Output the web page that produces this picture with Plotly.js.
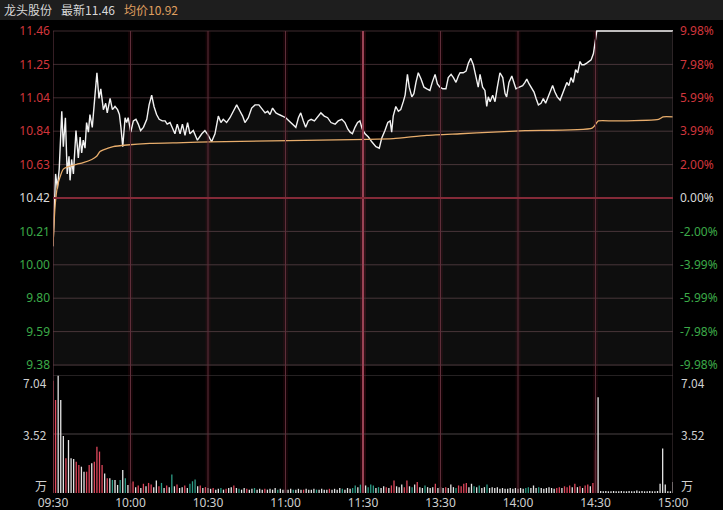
<!DOCTYPE html>
<html><head><meta charset="utf-8">
<script src="https://cdn.plot.ly/plotly-3.0.1.min.js"></script>
<style>html,body{margin:0;padding:0;background:#000;}#c{width:723px;height:510px;}</style>
</head><body><div id="c"></div>
<script>
// ---- data ----
const stockName = '龙头股份';
const lastPrice = '11.46';
const avgPriceText = '10.92';
const timeTickVals = [0, 30, 60, 90, 120, 150, 180, 210, 240];
const timeTickText = ['09:30','10:00','10:30','11:00','11:30','13:30','14:00','14:30','15:00'];
const priceTickVals = [11.46,11.252,11.044,10.836,10.628,10.42,10.212,10.004,9.796,9.588,9.38];
const priceTickText = ['11.46','11.25','11.04','10.84','10.63','10.42','10.21','10.00','9.80','9.59','9.38'];
const pctTickText = ['9.98%','7.98%','5.99%','3.99%','2.00%','0.00%','-2.00%','-3.99%','-5.99%','-7.98%','-9.98%'];
const prevClose = 10.42;

// price line: minute index (0 = 09:30, 120 = 11:30/13:00, 240 = 15:00)
const priceT = [0,1.0,1.7,2.4,3.4,4.0,4.8,5.5,6.2,6.6,7.2,7.9,8.9,9.8,10.5,11.1,11.7,12.4,13.0,13.7,14.3,15.2,16.3,17.0,17.8,18.5,19.5,20.4,21.0,22.1,23.0,24.0,25.0,25.7,26.3,27.0,27.9,28.5,29.1,30.1,31.1,32.1,33.0,33.9,35.0,36.3,37.2,38.2,39.1,40.1,41.1,42.3,43.4,44.2,45.3,46.2,47.2,48.1,49.2,50.1,51.1,52.1,53.0,54.3,55.9,57.6,58.8,60.1,61.4,62.7,64.0,65.0,65.9,67.2,68.5,69.8,71.1,72.4,73.4,74.3,75.6,76.9,78.2,79.7,80.8,82.1,83.1,84.0,85.0,86.3,87.5,88.8,90.1,91.4,92.6,94.0,95.0,95.9,96.9,97.8,98.8,99.9,101.2,102.5,103.7,105.0,106.3,107.6,109.2,110.4,111.8,113.0,114.1,115.0,115.9,116.9,117.9,118.8,119.7,120.8,122.1,123.4,125.0,126.3,127.2,128.5,129.6,130.5,131.1,131.7,132.7,133.7,134.6,135.6,136.3,137.2,137.9,138.9,139.7,140.5,141.4,142.5,143.6,144.7,145.9,146.8,147.9,148.8,149.8,150.9,152.1,153.0,154.1,155.0,156.0,156.9,157.6,158.8,159.9,160.8,161.7,162.7,163.4,164.0,164.6,165.3,166.3,167.2,167.9,168.5,169.2,170.2,171.1,172.0,173.0,174.1,175.0,175.6,176.5,177.6,178.5,179.2,180.5,181.8,182.7,183.4,184.3,185.3,186.2,187.0,187.9,188.9,189.8,190.7,191.7,192.8,193.4,194.3,195.2,196.3,197.2,197.9,198.9,199.7,200.5,201.4,202.3,203.1,204.0,204.7,205.6,206.6,207.5,208.3,209.2,209.8,210.5,240];
const priceV = [10.12,10.57,10.48,10.60,10.96,10.74,10.92,10.57,10.68,10.53,10.66,10.57,10.84,10.67,10.80,10.70,10.78,10.73,10.89,10.83,10.94,10.86,11.07,11.20,11.04,11.10,10.97,11.01,10.95,11.04,10.97,10.99,10.97,10.94,10.86,10.74,10.92,10.89,10.92,10.83,10.90,10.91,10.88,10.84,10.86,10.91,11.00,11.06,10.99,10.94,10.91,10.90,10.90,10.88,10.89,10.86,10.82,10.88,10.82,10.88,10.81,10.89,10.82,10.84,10.78,10.82,10.84,10.81,10.77,10.82,10.93,10.89,10.91,10.89,10.92,10.96,11.00,10.96,10.93,10.89,10.92,10.98,11.00,11.00,10.98,10.95,10.96,10.94,10.98,10.95,10.94,10.93,10.92,10.90,10.88,10.86,10.92,10.95,10.90,10.86,10.90,10.91,10.90,10.93,10.95,10.93,10.92,10.89,10.88,10.90,10.91,10.89,10.85,10.83,10.82,10.86,10.89,10.90,10.85,10.82,10.80,10.77,10.74,10.73,10.79,10.84,10.89,10.90,10.83,10.93,10.99,10.96,10.97,11.02,11.06,11.19,11.11,11.05,11.07,11.14,11.20,11.16,11.11,11.10,11.09,11.14,11.19,11.13,11.11,11.10,11.10,11.17,11.19,11.17,11.14,11.18,11.20,11.20,11.21,11.26,11.29,11.25,11.20,11.14,11.11,11.19,11.11,11.09,10.99,11.05,11.02,11.06,11.02,11.11,11.20,11.17,11.07,11.05,11.14,11.18,11.13,11.10,11.11,11.12,11.14,11.16,11.13,11.10,11.08,11.04,11.00,11.01,11.04,11.01,11.05,11.10,11.12,11.08,11.05,11.03,11.07,11.09,11.14,11.12,11.17,11.14,11.22,11.20,11.27,11.25,11.25,11.26,11.27,11.28,11.32,11.40,11.46,11.46];

// average price line
const avgT = [0,0.8,1.7,2.7,4.0,5.9,9.2,11.7,15.0,16.9,18.2,19.5,23.3,28.5,37.5,50.4,60.8,121.9,131.7,144.7,157.6,170.4,182.7,208.7,210.5,211.1,217.6,234.4,236.2,240];
const avgV = [10.12,10.37,10.49,10.55,10.60,10.615,10.63,10.64,10.66,10.68,10.71,10.72,10.74,10.75,10.76,10.765,10.77,10.785,10.79,10.81,10.82,10.83,10.84,10.855,10.89,10.90,10.90,10.91,10.925,10.925];

// volume per minute (万), 241 bars
const volume = [
 6.7,5.55,7.0,5.55,3.4,2.07,3.16,2.07,2.03,1.87,1.67,1.57,1.27,1.27,1.67,1.77,1.87,2.76,2.47,1.67,1.17,0.88,0.88,0.78,0.78,0.48,0.78,1.37,0.88,0.48,0.58,
 0.68,0.35,0.45,0.3,0.55,0.4,0.6,0.5,0.35,0.75,0.4,0.6,0.3,0.45,0.35,1.1,0.4,0.5,0.3,0.35,0.45,0.3,0.55,0.7,0.8,0.4,0.45,0.3,0.35,0.3,
 0.25,0.3,0.2,0.25,0.3,0.2,0.25,0.3,0.35,0.45,0.3,0.25,0.2,0.3,0.25,0.2,0.25,0.3,0.2,0.25,0.2,0.25,0.2,0.25,0.2,0.3,0.2,0.25,0.2,0.2,
 0.2,0.25,0.2,0.2,0.25,0.2,0.2,0.25,0.2,0.2,0.25,0.2,0.2,0.25,0.2,0.2,0.25,0.2,0.25,0.2,0.3,0.25,0.2,0.3,0.25,0.3,0.45,0.35,0.5,0.4,
 0.45,0.35,0.5,0.45,0.3,0.35,0.3,0.4,0.35,0.3,0.45,0.75,0.4,0.35,0.5,0.35,0.75,0.4,0.35,0.5,0.65,0.35,0.3,0.45,0.35,0.3,0.35,0.55,0.3,0.35,
 0.3,0.35,0.3,0.5,0.35,0.3,0.45,0.4,0.55,0.6,0.35,0.55,0.4,0.35,0.45,0.3,0.35,0.5,0.3,0.35,0.3,0.35,0.25,0.3,0.25,0.25,0.3,0.25,0.3,0.25,
 0.3,0.25,0.3,0.35,0.3,0.45,0.3,0.35,0.3,0.25,0.3,0.35,0.3,0.25,0.3,0.35,0.3,0.4,0.35,0.45,0.35,0.55,0.35,0.4,0.3,0.45,0.5,0.4,0.6,2.56,
 5.71,0.12,0.1,0.12,0.1,0.1,0.12,0.1,0.1,0.12,0.1,0.1,0.12,0.1,0.1,0.15,0.1,0.12,0.1,0.1,0.12,0.1,0.1,0.12,0.55,2.65,0.5,0.1,0.1,0.65
];
// bar colour per minute: r = up, g = down, w = flat
const volDir = [
 'rrwwwrwwwrrwwrrwrrrrwrwgwwgwgwr',
 'rwrwrwrrwwrgwrwgwrwwrwgggwrwrw',
 'wrwwgwrwwrwgwwrwwgwwwrwwwwgwww',
 'wwgwwwrwwwwgwwwwrwwwwgwwwggwgw',
 'wgggwgwwrwrrwwwrrwgwrwwgwwwrww',
 'wrwwwgrrrrwwgwgwwgwwwwwwwwwwww',
 'wwggwwwgwwwwwwrrwrrrwrwrwrrwrr',
 'wwwwwwwwwwwwwwwwwwwwwwwwwwwwww'
];
const volTicks = ['7.04','3.52','万'];

// ---- drawing ----
const RED = '#d0363c', GREEN = '#3caa48', WHITE = '#d8d8d8';
const dirColor = {r:'#e0485c', g:'#2e9e88', w:'#e6e6e6'};
const dirs = volDir.join('').split('');
const minutes = volume.map((_, i) => i);

function colorOf(i){ return i < 5 ? RED : (i === 5 ? WHITE : GREEN); }
const leftText = priceTickText.map((t,i)=>`<span style="color:${colorOf(i)}">${t}</span>`);
const rightText = pctTickText.map((t,i)=>`<span style="color:${colorOf(i)}">${t}</span>`);

const FONT = 'Noto Sans, Noto Sans CJK SC, sans-serif';
const CJK = 'Noto Sans CJK SC, Noto Sans, sans-serif';

const traces = [
  {x: priceT, y: priceV, type:'scatter', mode:'lines', xaxis:'x', yaxis:'y',
   line:{color:'#f2f2f2', width:1.4}, fill:'tozeroy', fillcolor:'rgba(255,255,255,0.055)', hoverinfo:'skip'},
  {x: avgT, y: avgV, type:'scatter', mode:'lines', xaxis:'x', yaxis:'y',
   line:{color:'#e8ad6c', width:1.3, shape:'spline', smoothing:0.6}, hoverinfo:'skip'},
  {x: [0,240], y:[prevClose, prevClose], type:'scatter', mode:'lines', xaxis:'x', yaxis:'y2',
   line:{width:0}, hoverinfo:'skip', showlegend:false},
  {x: minutes, y: volume, type:'bar', xaxis:'x', yaxis:'y3', width:0.5,
   marker:{color: dirs.map(d=>dirColor[d]), line:{width:0}}, hoverinfo:'skip'}
];

const PH = 463; // plot height in px (510 - 30 - 17)
const pad = 2.08/334;
const yRange = [9.38 - pad, 11.46 + pad];
function py(px){ return (493 - px)/PH; }
function pxX(px){ return (px - 53)/620; }

const shapes = [];
// header band
shapes.push({type:'rect', xref:'paper', yref:'paper', x0:pxX(0), x1:pxX(723), y0:py(20), y1:py(0),
  fillcolor:'#1e1e1e', line:{width:0}, layer:'below'});
// vertical time lines with faint glow
timeTickVals.forEach(v=>{
  if (v === 0 || v === 240) return;
  const mid = v === 120;
  shapes.push({type:'line', xref:'x', yref:'paper', x0:v, x1:v, y0:0, y1:py(31),
    line:{color: mid ? 'rgba(160,25,45,0.22)' : 'rgba(120,10,30,0.16)', width: mid ? 6 : 5}, layer:'below'});
  shapes.push({type:'line', xref:'x', yref:'paper', x0:v, x1:v, y0:0, y1:py(31),
    line:{color: mid ? '#9a4254' : '#5e2e3a', width: mid ? 2 : 1}});
});
// borders
shapes.push({type:'line', xref:'x', yref:'paper', x0:0, x1:0, y0:0, y1:py(31), line:{color:'#6a3c48', width:1}});
shapes.push({type:'line', xref:'x', yref:'paper', x0:240, x1:240, y0:0, y1:py(31), line:{color:'#4a3a3e', width:1}});
// horizontal price grid
priceTickVals.forEach((v,i)=>{
  if (i === 5) return;
  shapes.push({type:'line', xref:'paper', yref:'y', x0:0, x1:1, y0:v, y1:v, line:{color:'#3e2a2e', width:1}, layer:'below'});
});
shapes.push({type:'line', xref:'paper', yref:'y', x0:0, x1:1, y0:prevClose, y1:prevClose, line:{color:'#842a38', width:2}});
// volume grid
shapes.push({type:'line', xref:'paper', yref:'y3', x0:0, x1:1, y0:7.04, y1:7.04, line:{color:'#4a4244', width:1}, layer:'below'});
shapes.push({type:'line', xref:'paper', yref:'y3', x0:0, x1:1, y0:3.52, y1:3.52, line:{color:'#4a4244', width:1}, layer:'below'});

const annotations = [
  {text:stockName, xref:'paper', yref:'paper', x:pxX(2), y:py(10), xanchor:'left', yanchor:'middle', showarrow:false,
   font:{family:CJK, size:12, color:'#d8d8d8'}},
  {text:'最新' + lastPrice, xref:'paper', yref:'paper', x:pxX(59), y:py(10), xanchor:'left', yanchor:'middle', showarrow:false,
   font:{family:CJK, size:12, color:'#d8d8d8'}},
  {text:'均价' + avgPriceText, xref:'paper', yref:'paper', x:pxX(122), y:py(10), xanchor:'left', yanchor:'middle', showarrow:false,
   font:{family:CJK, size:12, color:'#e0a060'}}
];
const volLabelY = [383, 434, 485];
volTicks.forEach((t,i)=>{
  annotations.push({text:t, xref:'paper', yref:'paper', x:pxX(49), y:py(volLabelY[i]), xanchor:'right', yanchor:'middle',
    showarrow:false, font:{family:CJK, size:12, color:'#d0d0d0'}});
  annotations.push({text:t, xref:'paper', yref:'paper', x:pxX(679), y:py(volLabelY[i]), xanchor:'left', yanchor:'middle',
    showarrow:false, font:{family:CJK, size:12, color:'#d0d0d0'}});
});

const layout = {
  width:723, height:510,
  margin:{l:53, r:50, t:30, b:17, pad:0},
  paper_bgcolor:'#000', plot_bgcolor:'#000',
  showlegend:false, hovermode:false,
  font:{family:FONT, size:12, color:'#d0d0d0'},
  xaxis:{range:[0,240], domain:[0,1], anchor:'y3', tickmode:'array', tickvals:timeTickVals, ticktext:timeTickText,
    showgrid:false, zeroline:false, showline:false, ticks:'', tickfont:{family:FONT, size:12, color:'#cfcfcf'},
    ticklabelstandoff:1, fixedrange:true},
  yaxis:{domain:[1-336/PH, 1], range:yRange, anchor:'x', tickmode:'array', tickvals:priceTickVals, ticktext:leftText,
    showgrid:false, zeroline:false, showline:false, ticks:'', tickfont:{family:FONT, size:12}, ticklabelstandoff:2, fixedrange:true},
  yaxis2:{overlaying:'y', side:'right', anchor:'x', range:yRange, tickmode:'array', tickvals:priceTickVals, ticktext:rightText,
    showgrid:false, zeroline:false, showline:false, ticks:'', tickfont:{family:FONT, size:12}, ticklabelstandoff:6, fixedrange:true},
  yaxis3:{domain:[0, 118/PH], range:[0,7.04], anchor:'x', showticklabels:false, showgrid:false, zeroline:false,
    showline:false, ticks:'', fixedrange:true},
  bargap:0.5,
  shapes:shapes, annotations:annotations
};

Plotly.newPlot('c', traces, layout, {staticPlot:true, displayModeBar:false});
</script>
</body></html>
